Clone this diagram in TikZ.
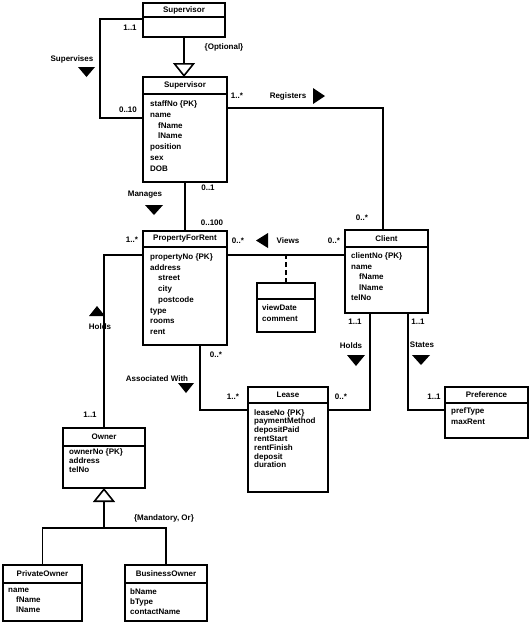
\documentclass[tikz,border=0pt]{standalone}
\usepackage{fontspec}
\setmainfont{Liberation Sans}
\usetikzlibrary{arrows.meta}
\begin{document}
\begin{tikzpicture}[x=1pt,y=-1pt,
  ln/.style={line width=1.6pt},
  clsbox/.style={draw, line width=1.6pt, rectangle, anchor=north west, inner sep=0pt, outer sep=0pt},
  ttl/.style={font=\fontsize{8}{9}\selectfont\bfseries, inner sep=0pt},
  attr/.style={font=\fontsize{8}{#1}\selectfont\bfseries, align=left, anchor=north west, inner sep=0pt, execute at begin node=\strut},
  lbl/.style={font=\fontsize{8}{9}\selectfont\bfseries, inner sep=0pt},
  gen/.style={line width=1.6pt, -{Triangle[open, length=14pt, width=22pt, line width=1.6pt]}},
  dashln/.style={line width=1.6pt, dash pattern=on 5pt off 3pt}
]
\useasboundingbox (0,0) rectangle (530,625);
\fill[white] (0,0) rectangle (530,625);

% ---------- classes ----------
\node[clsbox, minimum width=82pt, minimum height=34pt] (sup) at (143,3) {};
\draw[ln] (sup.west |- 0,17) -- (sup.east |- 0,17);
\node[ttl] (supt) at (184,10.5) {Supervisor};

\node[clsbox, minimum width=84pt, minimum height=105pt] (staff) at (143,77) {};
\draw[ln] (staff.west |- 0,94) -- (staff.east |- 0,94);
\node[ttl] (stafft) at (185,85.5) {Supervisor};
\node[attr=10.8] (staffa) at (150,100.4) {staffNo \{PK\}\\name\\\hspace*{8pt}fName\\\hspace*{8pt}lName\\position\\sex\\DOB};

\node[clsbox, minimum width=84pt, minimum height=114pt] (pfr) at (143,231) {};
\draw[ln] (pfr.west |- 0,247) -- (pfr.east |- 0,247);
\node[ttl] (pfrt) at (185,239) {PropertyForRent};
\node[attr=10.7] (pfra) at (150,253.5) {propertyNo \{PK\}\\address\\\hspace*{8pt}street\\\hspace*{8pt}city\\\hspace*{8pt}postcode\\type\\rooms\\rent};

\node[clsbox, minimum width=83pt, minimum height=83pt] (client) at (345,230) {};
\draw[ln] (client.west |- 0,247) -- (client.east |- 0,247);
\node[ttl] (clientt) at (386.5,238.5) {Client};
\node[attr=10.5] (clienta) at (351,252.6) {clientNo \{PK\}\\name\\\hspace*{8pt}fName\\\hspace*{8pt}lName\\telNo};

\node[clsbox, minimum width=58pt, minimum height=49pt] (viewing) at (257,283) {};
\draw[ln] (viewing.west |- 0,299) -- (viewing.east |- 0,299);
\node[attr=10.7] (viewinga) at (262,304.5) {viewDate\\comment};

\node[clsbox, minimum width=80pt, minimum height=105pt] (lease) at (248,387) {};
\draw[ln] (lease.west |- 0,403) -- (lease.east |- 0,403);
\node[ttl] (leaset) at (288,395) {Lease};
\node[attr=8.8] (leasea) at (254,409) {leaseNo \{PK\}\\paymentMethod\\depositPaid\\rentStart\\rentFinish\\deposit\\duration};

\node[clsbox, minimum width=83pt, minimum height=51pt] (pref) at (445,387) {};
\draw[ln] (pref.west |- 0,403) -- (pref.east |- 0,403);
\node[ttl] (preft) at (486.5,395) {Preference};
\node[attr=10.5] (prefa) at (451,407.6) {prefType\\maxRent};

\node[clsbox, minimum width=82pt, minimum height=60pt] (owner) at (63,428) {};
\draw[ln] (owner.west |- 0,446) -- (owner.east |- 0,446);
\node[ttl] (ownert) at (104,437) {Owner};
\node[attr=8.9] (ownera) at (69,448.9) {ownerNo \{PK\}\\address\\telNo};

\node[clsbox, minimum width=79pt, minimum height=56pt] (po) at (3,565) {};
\draw[ln] (po.west |- 0,583) -- (po.east |- 0,583);
\node[ttl] (pot) at (42.5,574) {PrivateOwner};
\node[attr=10] (poa) at (8,588) {name\\\hspace*{8pt}fName\\\hspace*{8pt}lName};

\node[clsbox, minimum width=82pt, minimum height=56pt] (bo) at (125,565) {};
\draw[ln] (bo.west |- 0,583) -- (bo.east |- 0,583);
\node[ttl] (bot) at (166,574) {BusinessOwner};
\node[attr=10] (boa) at (130,588) {bName\\bType\\contactName};

% ---------- connectors ----------
\draw[gen] (sup.south) -- (sup.south |- staff.north);
\draw[ln] (sup.west |- 0,19) -- ++(-43,0) |- (staff.west |- 0,118);
\draw[ln] (staff.east |- 0,108) -| (client.north -| 383,0);
\draw[ln] (staff.south) -- (staff.south |- pfr.north);
\draw[ln] (pfr.west |- 0,255) -| (owner.north);
\draw[ln] (pfr.east |- 0,255) -- (client.west |- 0,255);
\draw[dashln] (viewing.north) -- (viewing.north |- 0,255);
\draw[ln] (pfr.south -| 200,0) |- (lease.west |- 0,410);
\draw[ln] (client.south -| 370,0) |- (lease.east |- 0,410);
\draw[ln] (client.south -| 408,0) |- (pref.west |- 0,410);
\draw[gen] (owner.south |- 0,528) -- (owner.south);
\draw[ln] (po.north) -- (po.north |- 0,528) -- (bo.north |- 0,528) -- (bo.north);

% ---------- labels ----------
\node[lbl] (m1) at (130,28) {1..1};
\node[lbl] (m2) at (128,110) {0..10};
\node[lbl] (n1) at (72,59) {Supervises};
\fill (78,67) -- (95,67) -- (86.5,77) -- cycle;
\node[lbl] (opt) at (224,47) {\{Optional\}};
\node[lbl] (m3) at (237,96) {1..*};
\node[lbl] (n2) at (288,96) {Registers};
\fill (313,88) -- (325,96) -- (313,104) -- cycle;
\node[lbl] (m4) at (362,218) {0..*};
\node[lbl] (m5) at (208,188) {0..1};
\node[lbl] (n3) at (145,195) {Manages};
\fill (145,205) -- (163,205) -- (154,215) -- cycle;
\node[lbl] (m6) at (212,223) {0..100};
\node[lbl] (m7) at (132,240) {1..*};
\node[lbl] (m8) at (238,241) {0..*};
\fill (268,233) -- (268,248) -- (256,240.5) -- cycle;
\node[lbl] (n4) at (288,241) {Views};
\node[lbl] (m9) at (334,241) {0..*};
\fill (89,316) -- (105,316) -- (97,306) -- cycle;
\node[lbl] (n5) at (100,327) {Holds};
\node[lbl] (m10) at (90,415) {1..1};
\node[lbl] (m11) at (216,355) {0..*};
\node[lbl] (n6) at (157,379) {Associated With};
\fill (178,383) -- (194,383) -- (186,393) -- cycle;
\node[lbl] (m12) at (233,397) {1..*};
\node[lbl] (m13) at (355,322) {1..1};
\node[lbl] (n7) at (351,346) {Holds};
\fill (347,355) -- (365,355) -- (356,366) -- cycle;
\node[lbl] (m14) at (341,397) {0..*};
\node[lbl] (m15) at (418,322) {1..1};
\node[lbl] (n8) at (422,345) {States};
\fill (412,355) -- (430,355) -- (421,365) -- cycle;
\node[lbl] (m16) at (434,397) {1..1};
\node[lbl] (n9) at (164,518) {\{Mandatory, Or\}};
\end{tikzpicture}
\end{document}
